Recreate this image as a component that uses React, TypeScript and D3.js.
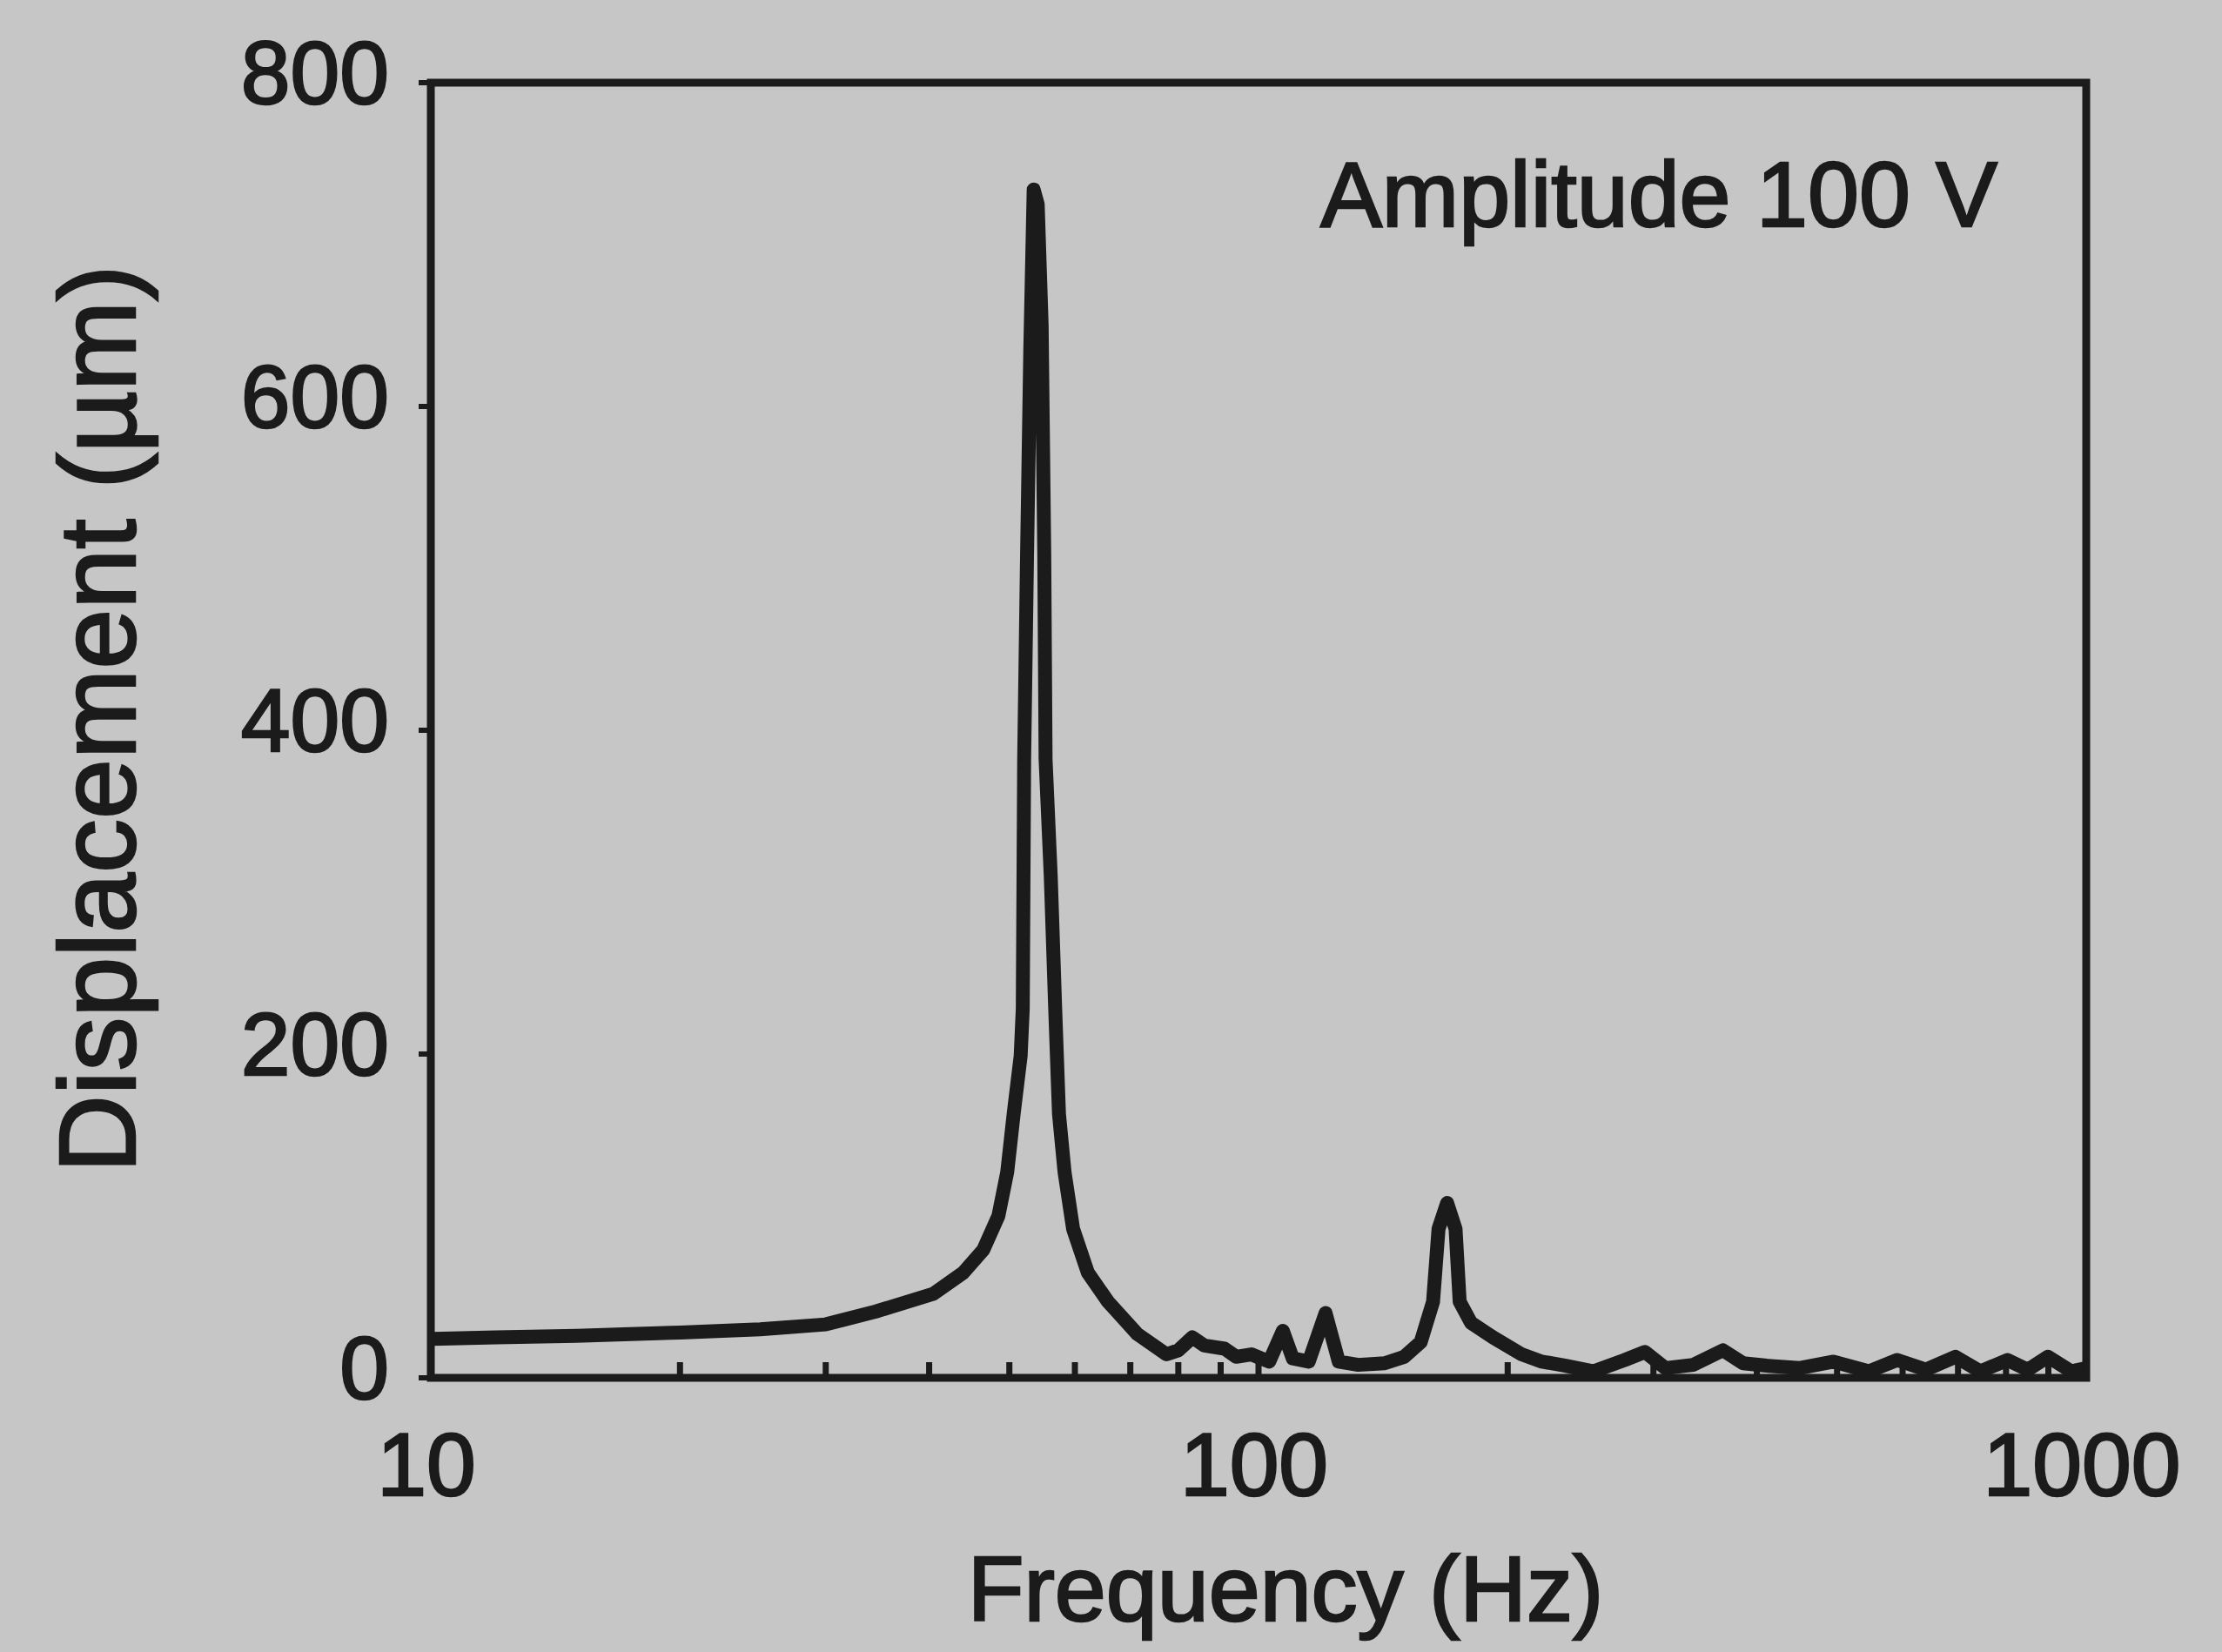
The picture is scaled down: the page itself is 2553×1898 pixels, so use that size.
import React from "react";
import * as d3 from "d3";

// Frequency (Hz) and displacement (µm)
const freqHz: number[] = [
  10, 12, 15, 20, 25, 30, 34.5, 40.5, 44.0, 46.5, 48.5, 49.7, 50.6, 51.6, 51.9, 52.1, 52.5, 53.0, 53.5,
  54.1, 54.7, 55.1, 55.3, 56.1, 56.8, 57.4, 58.3, 59.7, 62.2, 65.8, 71.4, 77.4, 80, 83.2, 86, 91, 94,
  98, 103, 107, 110, 115, 120.5, 125, 132, 142, 150, 157, 162.5, 165, 169, 173, 175, 180.6, 192, 208,
  220, 235, 254, 277, 293, 310, 335, 364, 385, 411, 450, 495, 546, 591, 640, 695, 745, 803, 850, 899,
  959, 1000,
];
const displacementUm: number[] = [
  24, 25, 26, 28, 30, 33, 41, 52, 65, 79, 100, 127, 163, 199, 228, 382, 502, 636, 734,
  725, 650, 508, 382, 310, 228, 163, 127, 92, 65, 47, 27, 14.5, 17, 25, 20, 18, 13,
  14.5, 10, 29, 12, 10, 40, 10, 8, 9, 13, 22, 47, 92, 108, 92, 47, 34, 25, 14.5,
  10, 7.5, 4, 11, 16, 6, 8, 17, 9, 7.5, 6, 10, 4, 11, 5, 13, 4, 11, 5, 13,
  4, 6,
];

const xMajorTicks: number[] = [10, 100, 1000];
const xMinorTicks: number[] = [20, 30, 40, 50, 60, 70, 80, 90, 200, 300, 400, 500, 600, 700, 800, 900];
const yTicks: number[] = [0, 200, 400, 600, 800];

const xTitle = "Frequency (Hz)";
const yTitle = "Displacement (µm)";
const annotation = "Amplitude 100 V";

const W = 2553;
const H = 1898;
const INK = "#1b1b1b";
const BG = "#c6c6c6";
const FONT = "'Liberation Sans', Arial, Helvetica, sans-serif";

export default function App() {
  const left = 495, right = 2397, top = 95, bottom = 1583;
  const x = d3.scaleLog().domain([10, 1000]).range([left, right]);
  const y = d3.scaleLinear().domain([0, 800]).range([bottom, top]);

  const pts: [number, number][] = freqHz.map((f, i) => [f, displacementUm[i]]);
  const line = d3
    .line<[number, number]>()
    .x((d) => x(d[0]))
    .y((d) => y(d[1]))
    .curve(d3.curveLinear);

  const textProps = {
    fontFamily: FONT,
    fill: INK,
    stroke: INK,
    strokeWidth: 2.5,
  };

  return (
    <svg
      width={W}
      height={H}
      style={{ position: "absolute", left: 0, top: 0, display: "block", background: BG }}
    >
      <rect x={0} y={0} width={W} height={H} fill={BG} />
      <defs>
        <clipPath id="plotclip">
          <rect x={left} y={top - 20} width={right - left} height={bottom - top + 20} />
        </clipPath>
      </defs>

      {/* data */}
      <path
        d={line(pts) || ""}
        fill="none"
        stroke={INK}
        strokeWidth={16}
        strokeLinejoin="round"
        strokeLinecap="round"
        clipPath="url(#plotclip)"
      />

      {/* frame */}
      <rect
        x={left}
        y={top}
        width={right - left}
        height={bottom - top}
        fill="none"
        stroke={INK}
        strokeWidth={9}
      />

      {/* x ticks (inward) */}
      {xMajorTicks.map((t) => (
        <line key={"xM" + t} x1={x(t)} x2={x(t)} y1={bottom} y2={bottom - 30} stroke={INK} strokeWidth={7} />
      ))}
      {xMinorTicks.map((t) => (
        <line key={"xm" + t} x1={x(t)} x2={x(t)} y1={bottom} y2={bottom - 18} stroke={INK} strokeWidth={7} />
      ))}
      {xMajorTicks.map((t) => (
        <text key={"xl" + t} x={x(t) - 5} y={1718} textAnchor="middle" fontSize={102} {...textProps}>
          {String(t)}
        </text>
      ))}

      {/* y ticks (outward) */}
      {yTicks.map((t) => (
        <line key={"yt" + t} x1={left - 14} x2={left} y1={y(t)} y2={y(t)} stroke={INK} strokeWidth={6} />
      ))}
      {yTicks.map((t) => (
        <text key={"yl" + t} x={447} y={y(t) + 24} textAnchor="end" fontSize={102} {...textProps}>
          {String(t)}
        </text>
      ))}

      {/* titles */}
      <text x={1477} y={1862} textAnchor="middle" fontSize={106} {...textProps}>
        {xTitle}
      </text>
      <text transform={`translate(155, 826) rotate(-90)`} textAnchor="middle" fontSize={124} {...textProps}>
        {yTitle}
      </text>
      <text x={2295} y={260} textAnchor="end" fontSize={106} {...textProps}>
        {annotation}
      </text>
    </svg>
  );
}
